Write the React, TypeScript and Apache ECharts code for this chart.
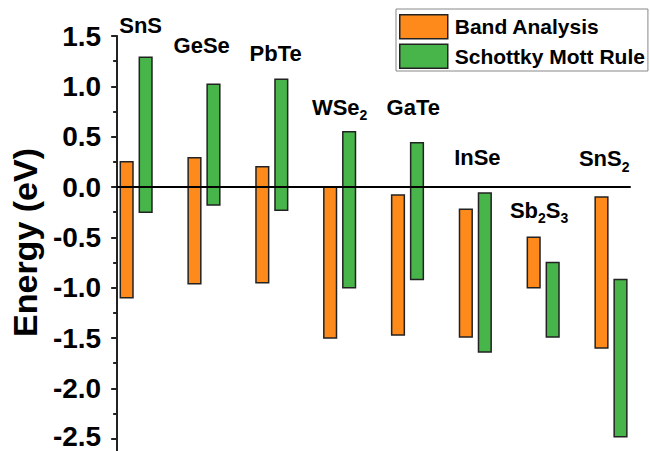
import React, { useEffect, useRef } from "react";
import * as echarts from "echarts";

const materials = ["SnS", "GeSe", "PbTe", "WSe2", "GaTe", "InSe", "Sb2S3", "SnS2"];
const bandLow = [-1.1, -0.96, -0.95, -1.5, -1.47, -1.49, -1.0, -1.6];
const bandHigh = [0.25, 0.29, 0.2, 0.0, -0.08, -0.22, -0.5, -0.1];
const smLow = [-0.25, -0.18, -0.23, -1.0, -0.92, -1.64, -1.49, -2.48];
const smHigh = [1.29, 1.02, 1.07, 0.55, 0.44, -0.06, -0.75, -0.92];
// label anchors in data units (x: group position, y: energy)
const labelX = [1.066, 1.966, 3.057, 4.0, 5.085, 6.03, 6.94, 7.9];
const labelY = [1.6, 1.405, 1.326, 0.79, 0.79, 0.29, -0.233, 0.28];

const FONT = "'Liberation Sans', Arial, sans-serif";
const ORANGE = "#FF8A1C";
const GREEN = "#47B54A";
const BAR_W = 0.187;
const OFFSET = 0.14;

const toRich = (s: string) =>
  s
    .split(/(\d)/)
    .filter((t) => t.length > 0)
    .map((t) => (/^\d$/.test(t) ? `{s|${t}}` : `{n|${t}}`))
    .join("");

export default function App() {
  const ref = useRef<HTMLDivElement>(null);
  useEffect(() => {
    document.body.style.margin = "0";
    document.body.style.overflow = "hidden";
    document.documentElement.style.overflow = "hidden";
    const chart = echarts.init(ref.current!, null, { renderer: "svg" });
    const barRenderer = (offset: number) => (params: any, api: any) => {
      const x = api.value(0);
      const lo = api.value(1);
      const hi = api.value(2);
      const unit = api.size([1, 0])[0];
      const w = BAR_W * unit;
      const pTop = api.coord([x + offset, hi]);
      const pBot = api.coord([x + offset, lo]);
      const st = api.style();
      return {
        type: "rect",
        shape: { x: pTop[0] - w / 2, y: pTop[1], width: w, height: pBot[1] - pTop[1] },
        style: { fill: st.fill, stroke: "#222", lineWidth: 1.5 },
      };
    };
    const labelFont = { fontFamily: FONT, fontWeight: "bold", fontSize: 28, color: "#000" };
    chart.setOption({
      animation: false,
      grid: { left: 117, right: 20, top: 36, bottom: 0 },
      legend: {
        data: ["Band Analysis", "Schottky Mott Rule"],
        orient: "vertical",
        left: 396,
        top: 9,
        icon: "rect",
        itemWidth: 48,
        itemHeight: 24,
        itemGap: 4,
        padding: [5, 3, 2, 3],
        borderColor: "#888",
        borderWidth: 1,
        itemStyle: { borderColor: "#222", borderWidth: 1.5 },
        textStyle: { fontFamily: FONT, fontWeight: "bold", fontSize: 21, color: "#000", padding: [0, 0, 0, 2] },
      },
      xAxis: {
        type: "value",
        min: 0.72,
        max: 8.28,
        z: 5,
        axisLine: { show: true, onZero: true, lineStyle: { color: "#000", width: 2 } },
        axisTick: { show: false },
        axisLabel: { show: false },
        splitLine: { show: false },
      },
      yAxis: {
        type: "value",
        min: -3,
        max: 1.5,
        interval: 0.5,
        name: "Energy (eV)",
        nameLocation: "middle",
        nameGap: 73,
        nameTextStyle: { fontFamily: FONT, fontWeight: "bold", fontSize: 34, color: "#000", padding: [0, 0, 0, 40] },
        axisLine: { show: true, onZero: false, lineStyle: { color: "#222", width: 2 } },
        axisTick: { show: true, inside: false, length: 6, lineStyle: { color: "#222", width: 2 } },
        minorTick: { show: true, splitNumber: 2, length: 4, lineStyle: { color: "#222", width: 2 } },
        axisLabel: {
          margin: 16,
          ...labelFont,
          lineHeight: 24,
          formatter: (v: number) =>
            v < -2.9 ? "" : v < -2.4 ? `{low|${v.toFixed(1)}}` : v.toFixed(1),
          rich: {
            low: { ...labelFont, lineHeight: 24, padding: [0, 0, 5, 0] },
          },
        },
        splitLine: { show: false },
      },
      series: [
        {
          name: "Band Analysis",
          type: "custom",
          itemStyle: { color: ORANGE, borderColor: "#222" },
          renderItem: barRenderer(-OFFSET),
          data: materials.map((_, i) => [i + 1, bandLow[i], bandHigh[i]]),
          encode: { x: 0, y: [1, 2] },
          z: 2,
        },
        {
          name: "Schottky Mott Rule",
          type: "custom",
          itemStyle: { color: GREEN, borderColor: "#222" },
          renderItem: barRenderer(OFFSET),
          data: materials.map((_, i) => [i + 1, smLow[i], smHigh[i]]),
          encode: { x: 0, y: [1, 2] },
          z: 2,
        },
        {
          name: "labels",
          type: "custom",
          clip: false,
          silent: true,
          data: materials.map((_, i) => [labelX[i], labelY[i], i]),
          encode: { x: 0, y: 1 },
          renderItem: (params: any, api: any) => {
            const p = api.coord([api.value(0), api.value(1)]);
            const i = api.value(2);
            return {
              type: "text",
              x: p[0],
              y: p[1],
              style: {
                text: toRich(materials[i]),
                align: "center",
                verticalAlign: "middle",
                fill: "#000",
                font: `bold 22px ${FONT}`,
                rich: {
                  n: { fontSize: 22, fontWeight: "bold", fontFamily: FONT, fill: "#000", verticalAlign: "middle", lineHeight: 30 },
                  s: { fontSize: 14, fontWeight: "bold", fontFamily: FONT, fill: "#000", verticalAlign: "bottom", lineHeight: 14 },
                },
              },
            };
          },
        },
      ],
    });
    return () => chart.dispose();
  }, []);
  return <div ref={ref} style={{ width: 650, height: 489 }} />;
}
